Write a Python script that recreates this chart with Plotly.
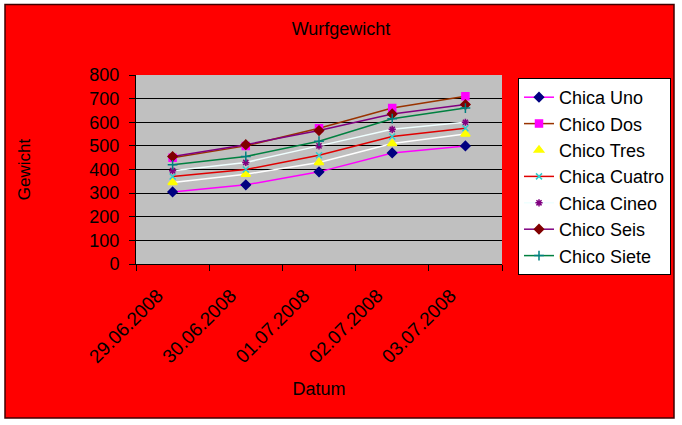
import plotly.graph_objects as go

dates = ["29.06.2008", "30.06.2008", "01.07.2008", "02.07.2008", "03.07.2008"]

chica_uno = [305, 335, 390, 470, 500]
chico_dos = [450, 500, 575, 660, 710]
chico_tres = [345, 380, 430, 510, 550]
chica_cuatro = [370, 400, 460, 540, 575]
chica_cineo = [395, 430, 500, 570, 600]
chico_seis = [455, 505, 565, 635, 675]
chico_siete = [420, 455, 520, 615, 660]

y_ticks = [0, 100, 200, 300, 400, 500, 600, 700, 800]

series = [
    ("Chica Uno", chica_uno, "#FF00FF", "#000080", "diamond", 7),
    ("Chico Dos", chico_dos, "#993300", "#FF00FF", "square", 7),
    ("Chico Tres", chico_tres, "#FFFFFF", "#FFFF00", "triangle-up", 8),
    ("Chica Cuatro", chica_cuatro, "#E00000", "#33CCCC", "x-thin-open", 6),
    ("Chica Cineo", chica_cineo, "#F0FFFF", "#800080", "asterisk-open", 6),
    ("Chico Seis", chico_seis, "#800080", "#800000", "diamond", 7),
    ("Chico Siete", chico_siete, "#008040", "#008080", "cross-thin-open", 7),
]

FONT = "Liberation Sans, Arial, sans-serif"

fig = go.Figure()
for name, vals, lc, mc, sym, ms in series:
    fig.add_trace(go.Scatter(
        x=dates, y=vals, name=name, mode="lines+markers",
        line=dict(color=lc, width=1.5),
        marker=dict(symbol=sym, size=ms, color=mc,
                    line=dict(color=mc, width=1.5)),
    ))

W, H = 682, 425
L, R, T, B = 136, 502, 75, 264
pw, ph = R - L, B - T


def px(x):
    return (x - L) / pw


def py(y):
    return (B - y) / ph


shapes = []
# white outer frame
for x0, y0, x1, y1 in [(0, 0, 5, H), (674, 0, W, H), (0, 0, W, 4), (0, 418, W, H)]:
    shapes.append(dict(type="rect", xref="paper", yref="paper",
                       x0=px(x0), x1=px(x1), y0=py(y0), y1=py(y1),
                       fillcolor="white", line=dict(width=0), layer="above"))
shapes.append(dict(type="rect", xref="paper", yref="paper",
                   x0=px(5), x1=px(674), y0=py(4.5), y1=py(418),
                   line=dict(color="#400000", width=1.5), layer="above"))

fig.update_layout(
    width=W, height=H,
    margin=dict(l=L, r=W - R, t=T, b=H - B, autoexpand=False),
    paper_bgcolor="#FF0000",
    plot_bgcolor="#C0C0C0",
    font=dict(family=FONT, size=17, color="#000000"),
    title=dict(text="Wurfgewicht", x=0.5, xref="container", xanchor="center",
               y=1 - 29 / H, yref="container", yanchor="middle",
               font=dict(size=18, color="#000000")),
    showlegend=True,
    legend=dict(x=px(518), y=py(78), xanchor="left", yanchor="top",
                bgcolor="#FFFFFF", bordercolor="#000000", borderwidth=1,
                font=dict(size=18, color="#000000"), itemwidth=30,
                tracegroupgap=0, maxheight=400),
    xaxis=dict(type="category", categoryorder="array", categoryarray=dates,
               range=[-0.5, 4.5], tickson="boundaries", ticks="outside",
               ticklen=6, tickcolor="#000000", showline=True,
               linecolor="#000000", linewidth=1, showgrid=False,
               tickangle=-45, tickfont=dict(size=19), ticklabelstandoff=12,
               ticklabelshift=-15,
               title=dict(text="Datum", font=dict(size=18), standoff=16),
               zeroline=False, fixedrange=True),
    yaxis=dict(range=[0, 800], tickvals=y_ticks, ticks="outside", ticklen=6,
               tickcolor="#000000", showline=True, linecolor="#000000",
               linewidth=1, showgrid=True, gridcolor="#000000", gridwidth=1,
               zeroline=False, tickfont=dict(size=18), ticklabelstandoff=6,
               title=dict(text="Gewicht", font=dict(size=17), standoff=54),
               fixedrange=True),
    shapes=shapes,
)

fig.write_html("out.html")
